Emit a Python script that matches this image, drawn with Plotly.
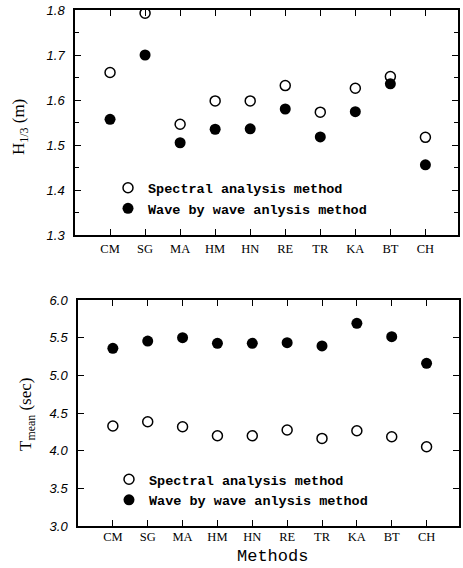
import plotly.graph_objects as go

methods = ["CM", "SG", "MA", "HM", "HN", "RE", "TR", "KA", "BT", "CH"]
h13_spectral = [1.661, 1.793, 1.546, 1.598, 1.598, 1.632, 1.573, 1.626, 1.652, 1.517]
h13_wave = [1.557, 1.700, 1.505, 1.535, 1.536, 1.580, 1.518, 1.574, 1.636, 1.456]
tmean_spectral = [4.327, 4.384, 4.318, 4.198, 4.198, 4.274, 4.163, 4.265, 4.185, 4.052]
tmean_wave = [5.358, 5.455, 5.500, 5.425, 5.425, 5.434, 5.390, 5.690, 5.513, 5.159]
legend_labels = ["Spectral analysis method", "Wave by wave anlysis method"]

W, H = 463, 568
xi = list(range(len(methods)))

fig = go.Figure()

open_marker = dict(symbol="circle", size=10, color="white", line=dict(color="black", width=1.5))
fill_marker = dict(symbol="circle", size=11, color="black", line=dict(color="black", width=0))

fig.add_trace(go.Scatter(x=xi, y=h13_spectral, mode="markers", marker=open_marker,
                         name=legend_labels[0], xaxis="x", yaxis="y", legend="legend"))
fig.add_trace(go.Scatter(x=xi, y=h13_wave, mode="markers", marker=fill_marker,
                         name=legend_labels[1], xaxis="x", yaxis="y", legend="legend"))
fig.add_trace(go.Scatter(x=xi, y=tmean_spectral, mode="markers", marker=open_marker,
                         name=legend_labels[0], xaxis="x2", yaxis="y2", legend="legend2"))
fig.add_trace(go.Scatter(x=xi, y=tmean_wave, mode="markers", marker=fill_marker,
                         name=legend_labels[1], xaxis="x2", yaxis="y2", legend="legend2"))

tickfont_x = dict(family="Liberation Serif", size=12.5, color="black")
tickfont_y = dict(family="Liberation Sans", size=13, color="black", style="italic")

common_x = dict(tickmode="array", tickvals=xi, ticktext=methods, ticks="inside", ticklen=6,
                tickwidth=1.2, tickcolor="black", showline=True, linecolor="black", linewidth=1.5,
                mirror="ticks", showgrid=False, zeroline=False, tickfont=tickfont_x,
                range=[-1, 9.93], automargin=False)
common_y = dict(ticks="inside", ticklen=6, tickwidth=1.2, tickcolor="black", showline=True,
                linecolor="black", linewidth=1.5, mirror="ticks", showgrid=False, zeroline=False,
                tickfont=tickfont_y, ticklabelstandoff=6, automargin=False)

fig.update_layout(
    width=W, height=H,
    margin=dict(l=0, r=0, t=0, b=0),
    paper_bgcolor="white", plot_bgcolor="white",
    xaxis=dict(domain=[75 / W, 458 / W], anchor="y", ticklabelstandoff=1, **common_x),
    yaxis=dict(domain=[1 - 235 / H, 1 - 10 / H], anchor="x", range=[1.3, 1.8], dtick=0.1,
               tickformat=".1f", minor=dict(dtick=0.05, ticks="inside", ticklen=4, tickcolor="black"),
               **common_y),
    xaxis2=dict(domain=[78 / W, 459 / W], anchor="y2", ticklabelstandoff=-2, **common_x),
    yaxis2=dict(domain=[1 - 526 / H, 1 - 300 / H], anchor="x2", range=[3.0, 6.0], dtick=0.5,
                tickformat=".1f", **common_y),
    legend=dict(x=(128 - 20) / W, y=1 - 198.5 / H, xanchor="left", yanchor="middle",
                bgcolor="rgba(0,0,0,0)", tracegroupgap=0,
                font=dict(family="Liberation Mono", size=13.5, color="black", weight="bold")),
    legend2=dict(x=(129 - 20) / W, y=1 - 490 / H, xanchor="left", yanchor="middle",
                 bgcolor="rgba(0,0,0,0)", tracegroupgap=0,
                 font=dict(family="Liberation Mono", size=13.5, color="black", weight="bold")),
    annotations=[
        dict(text="H<sub>1/3</sub> (m)", textangle=-90, x=20 / W, y=1 - 127 / H,
             xref="paper", yref="paper", showarrow=False, xanchor="center", yanchor="middle",
             font=dict(family="Liberation Serif", size=17, color="black")),
        dict(text="T<sub>mean</sub> (sec)", textangle=-90, x=27 / W, y=1 - 415 / H,
             xref="paper", yref="paper", showarrow=False, xanchor="center", yanchor="middle",
             font=dict(family="Liberation Serif", size=17, color="black")),
        dict(text="Methods", x=272 / W, y=1 - 556 / H, xref="paper", yref="paper",
             showarrow=False, xanchor="center", yanchor="middle",
             font=dict(family="Liberation Mono", size=17, color="black")),
    ],
)

fig.write_html("out.html")
